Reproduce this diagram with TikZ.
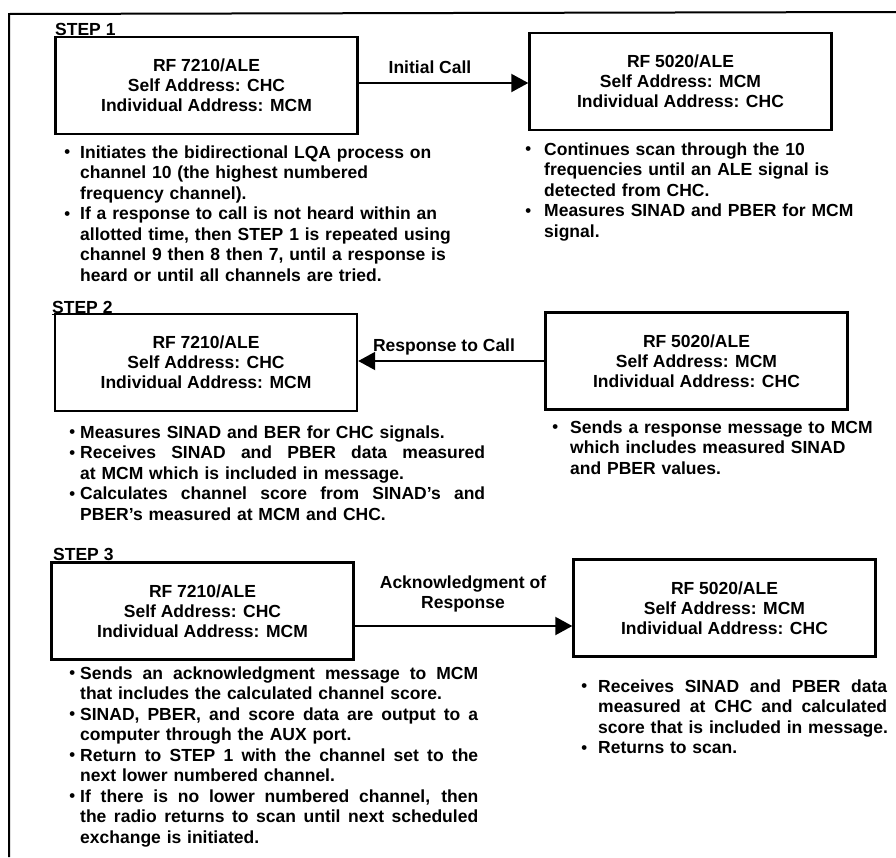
\documentclass[tikz,border=0pt]{standalone}
\usepackage{fontspec}
\setmainfont{Liberation Sans}
\usetikzlibrary{arrows.meta}
\setlength\parindent{0pt}
\setlength\parskip{0pt}
\hyphenpenalty=10000
\exhyphenpenalty=10000
\newcommand\itm[1][6pt]{\leavevmode\llap{\raisebox{0.4pt}{\scalebox{0.95}{\textbullet}}\hspace{#1}}\rule{0pt}{14pt}\ignorespaces}
\newcommand\jl[2]{\makebox[#1][s]{\spaceskip=0.278em plus 1fil\relax #2}}
\begin{document}
\begin{tikzpicture}[x=1pt,y=-1pt,
  txt/.style={font=\bfseries\fontsize{17.5}{20.5}\selectfont, inner sep=0pt},
  rbox/.style={draw, line width=2.4pt, minimum width=302pt, minimum height=97pt,
    inner sep=0pt, align=center, font=\bfseries\fontsize{17.5}{20}\selectfont},
  blist/.style={txt, anchor=north west, align=left},
  conn/.style={line width=2pt, -{Triangle[length=17pt,width=18pt]}},
  steplbl/.style={txt, anchor=base west},
  uline/.style={line width=1.4pt}
]
\useasboundingbox (0,0) rectangle (896,857);
% frame
\draw[line width=2pt] (9,857) -- (9,14) -- (896,12);

% ---------- STEP 1 ----------
\node[steplbl] (s1) at (55,35) {STEP 1};
\draw[uline] ([yshift=-1.5pt]s1.base west) -- ([yshift=-1.5pt]s1.base east);
\node[rbox] (L1) at (206.5,85.5) {RF 7210/ALE\\Self Address: CHC\\Individual Address: MCM};
\node[rbox] (R1) at (680.5,81.5) {RF 5020/ALE\\Self Address: MCM\\Individual Address: CHC};
\draw[conn] ([yshift=2.5pt]L1.east) -- ([yshift=-1.5pt]R1.west);
\node[txt, anchor=base] (t1) at (430,73) {Initial Call};
\node[blist, text width=420pt] (b1l) at (80,144) {%
\itm[10pt]Initiates the bidirectional LQA process on\newline channel 10 (the highest numbered\newline frequency channel).\par
\itm[10pt]If a response to call is not heard within an\newline allotted time, then STEP 1 is repeated using\newline channel 9 then 8 then 7, until a response is\newline heard or until all channels are tried.};
\node[blist, text width=340pt] (b1r) at (544,141) {%
\itm[13pt]Continues scan through the 10\newline frequencies until an ALE signal is\newline detected from CHC.\par
\itm[13pt]Measures SINAD and PBER for MCM\newline signal.};

% ---------- STEP 2 ----------
\node[steplbl] (s2) at (52,313) {STEP 2};
\draw[uline] ([yshift=-1.5pt]s2.base west) -- ([yshift=-1.5pt]s2.base east);
\node[rbox] (L2) at (206,362.5) {RF 7210/ALE\\Self Address: CHC\\Individual Address: MCM};
\node[rbox] (R2) at (696.5,361) {RF 5020/ALE\\Self Address: MCM\\Individual Address: CHC};
\draw[conn] (R2.west) -- (L2.east |- R2.west);
\node[txt, anchor=base] (t2) at (444,351) {Response to Call};
\node[blist, text width=420pt] (b2l) at (80,424) {%
\itm[5pt]Measures SINAD and BER for CHC signals.\par
\itm[5pt]\jl{405pt}{Receives SINAD and PBER data measured}\newline at MCM which is included in message.\par
\itm[5pt]\jl{405pt}{Calculates channel score from SINAD's and}\newline PBER's measured at MCM and CHC.};
\node[blist, text width=330pt] (b2r) at (570,419) {%
\itm[12pt]Sends a response message to MCM\newline which includes measured SINAD\newline and PBER values.};

% ---------- STEP 3 ----------
\node[steplbl] (s3) at (53,560) {STEP 3};
\draw[uline] ([yshift=-1.5pt]s3.base west) -- ([yshift=-1.5pt]s3.base east);
\node[rbox] (L3) at (202.5,611) {RF 7210/ALE\\Self Address: CHC\\Individual Address: MCM};
\node[rbox] (R3) at (724.5,608) {RF 5020/ALE\\Self Address: MCM\\Individual Address: CHC};
\draw[conn] ([yshift=-15pt]L3.east) -- ([yshift=-18pt]R3.west);
\node[txt, align=center, anchor=north] (t3) at (463,574) {\rule{0pt}{14pt}Acknowledgment of\\Response};
\node[blist, text width=420pt] (b3l) at (80,665) {%
\itm[5pt]\jl{398pt}{Sends an acknowledgment message to MCM}\newline that includes the calculated channel score.\par
\itm[5pt]\jl{398pt}{SINAD, PBER, and score data are output to a}\newline computer through the AUX port.\par
\itm[5pt]\jl{398pt}{Return to STEP 1 with the channel set to the}\newline next lower numbered channel.\par
\itm[5pt]\jl{398pt}{If there is no lower numbered channel, then}\newline \jl{398pt}{the radio returns to scan until next scheduled}\newline exchange is initiated.};
\node[blist, text width=300pt] (b3r) at (598,678) {%
\itm[11pt]\jl{289pt}{Receives SINAD and PBER data}\newline \jl{289pt}{measured at CHC and calculated}\newline score that is included in message.\par
\itm[11pt]Returns to scan.};
\end{tikzpicture}
\end{document}
